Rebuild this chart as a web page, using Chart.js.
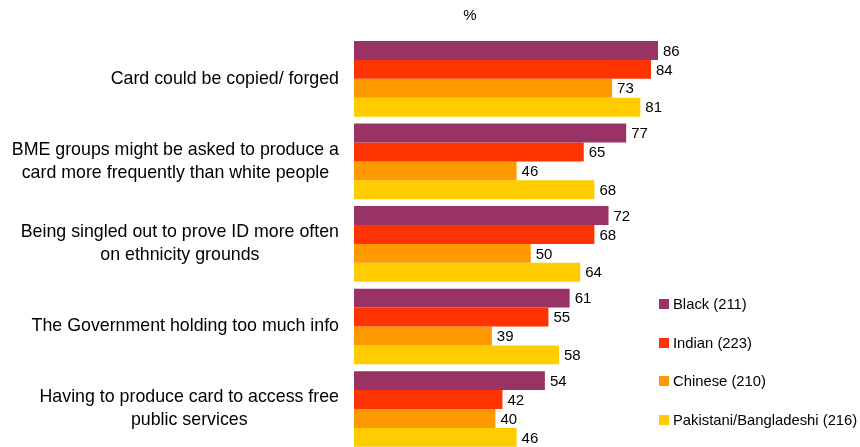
<!DOCTYPE html>
<html>
<head>
<meta charset="utf-8">
<script src="https://cdn.jsdelivr.net/npm/chart.js@4/dist/chart.umd.min.js"></script>
<style>
  html, body { margin: 0; padding: 0; background: #fff; overflow: hidden; }
  #wrap { width: 860px; height: 452px; }
</style>
</head>
<body>
<div id="wrap"><canvas id="chart"></canvas></div>
<script>
// categories (multi-line labels as in the original)
var categories = [
    ['Card could be copied/ forged'],
    ['BME groups might be asked to produce a', 'card more frequently than white people'],
    ['Being singled out to prove ID more often', 'on ethnicity grounds'],
    ['The Government holding too much info'],
    ['Having to produce card to access free', 'public services']
];
var seriesNames = ['Black (211)', 'Indian (223)', 'Chinese (210)', 'Pakistani/Bangladeshi (216)'];
var black     = [86, 77, 72, 61, 54];
var indian    = [84, 65, 68, 55, 42];
var chinese   = [73, 46, 50, 39, 40];
var pakistani = [81, 68, 64, 58, 46];
var seriesColors = ['#993366', '#FF3300', '#FF9900', '#FFCC00'];
var axisTitle = '%';

var FONT = 'Arial, "Liberation Sans", sans-serif';

// category labels (block right aligned, lines centred), value labels,
// the "%" title and the legend on the right
var extrasPlugin = {
    id: 'extras',
    afterDatasetsDraw: function(chart) {
        var ctx = chart.ctx;
        var yScale = chart.scales.y;
        ctx.save();
        ctx.fillStyle = '#000';
        ctx.textBaseline = 'middle';

        ctx.font = '17.8px ' + FONT;
        ctx.textAlign = 'center';
        var lineH = 23;
        var right = chart.chartArea.left - 15;
        chart.data.labels.forEach(function(lines, i) {
            var w = 0;
            lines.forEach(function(l) { w = Math.max(w, ctx.measureText(l).width); });
            var cx = right - w / 2;
            var cy = yScale.getPixelForValue(i);
            var y0 = cy - (lines.length - 1) * lineH / 2;
            lines.forEach(function(l, k) { ctx.fillText(l, cx, y0 + k * lineH); });
        });

        ctx.font = '15px ' + FONT;
        ctx.textAlign = 'left';
        chart.data.datasets.forEach(function(ds, i) {
            chart.getDatasetMeta(i).data.forEach(function(bar, j) {
                ctx.fillText(ds.data[j], bar.x + 5, bar.y + 1);
            });
        });
        // axis title
        ctx.textAlign = 'center';
        ctx.fillText(axisTitle, 470, 16);
        // legend
        ctx.font = '14.8px ' + FONT;
        ctx.textAlign = 'left';
        var legendY = [304, 343, 381, 420];
        chart.data.datasets.forEach(function(ds, i) {
            ctx.fillStyle = ds.backgroundColor;
            ctx.fillRect(659, legendY[i] - 5, 10, 10);
            ctx.fillStyle = '#000';
            ctx.fillText(ds.label, 673, legendY[i] + 1);
        });
        ctx.restore();
    }
};

new Chart(document.getElementById('chart'), {
    type: 'bar',
    data: {
        labels: categories,
        datasets: [
            { label: seriesNames[0], data: black,     backgroundColor: seriesColors[0] },
            { label: seriesNames[1], data: indian,    backgroundColor: seriesColors[1] },
            { label: seriesNames[2], data: chinese,   backgroundColor: seriesColors[2] },
            { label: seriesNames[3], data: pakistani, backgroundColor: seriesColors[3] }
        ]
    },
    options: {
        indexAxis: 'y',
        responsive: true,
        maintainAspectRatio: false,
        animation: false,
        layout: { padding: { top: 37.6, right: 152.5, bottom: 1.7, left: 0 } },
        datasets: { bar: { categoryPercentage: 0.917, barPercentage: 1 } },
        plugins: {
            legend: { display: false },
            tooltip: { enabled: false }
        },
        scales: {
            x: {
                display: false,
                min: 0,
                max: 100
            },
            y: {
                grid: { display: false, drawTicks: false },
                border: { display: false },
                ticks: { display: false },
                afterFit: function(scale) {
                    scale.width = 354;
                    scale.paddingTop = 0;
                    scale.paddingBottom = 0;
                }
            }
        }
    },
    plugins: [extrasPlugin]
});
</script>
</body>
</html>
